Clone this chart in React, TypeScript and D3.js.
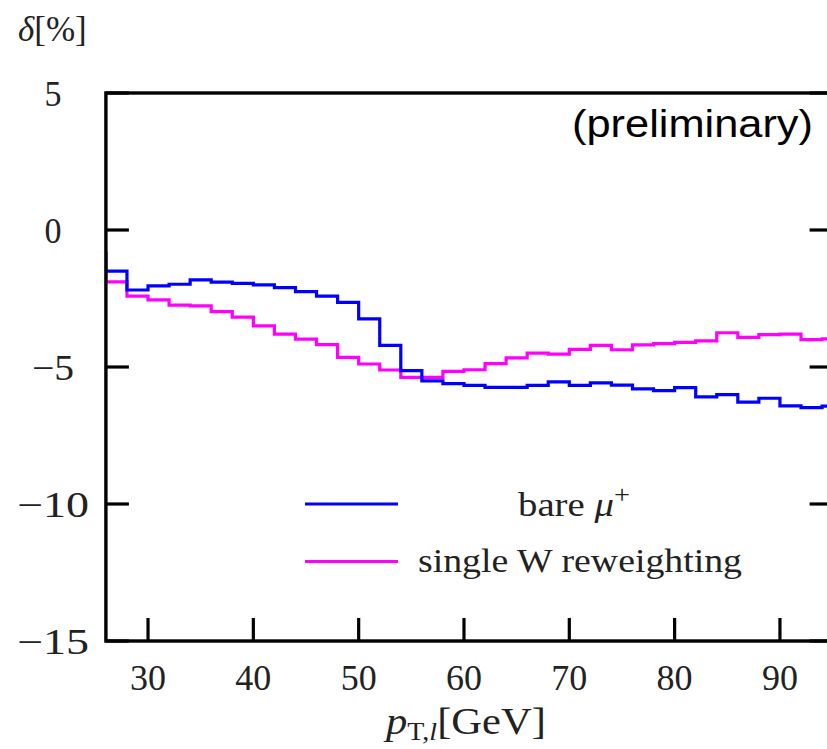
import React from "react";
import * as d3 from "d3";

// lower edges of the 2 GeV bins
const binLow = [24, 26, 28, 30, 32, 34, 36, 38, 40, 42, 44, 46, 48, 50, 52, 54, 56, 58, 60, 62, 64, 66, 68, 70, 72, 74, 76, 78, 80, 82, 84, 86, 88, 90, 92, 94];
const bareMu = [-0.84, -1.5, -2.19, -2.04, -1.98, -1.82, -1.9, -1.95, -2.0, -2.1, -2.25, -2.41, -2.64, -3.24, -4.21, -5.13, -5.51, -5.61, -5.67, -5.74, -5.74, -5.67, -5.54, -5.67, -5.58, -5.66, -5.8, -5.86, -5.75, -6.09, -6.01, -6.28, -6.14, -6.42, -6.48, -6.43];
const singleW = [-1.55, -1.89, -2.41, -2.55, -2.74, -2.77, -2.98, -3.18, -3.5, -3.8, -3.98, -4.18, -4.65, -4.89, -5.11, -5.38, -5.38, -5.16, -5.1, -4.88, -4.67, -4.49, -4.53, -4.36, -4.21, -4.37, -4.19, -4.15, -4.1, -4.05, -3.75, -3.92, -3.82, -3.8, -4.0, -3.97];
const binWidth = 2;
const xTicks = [30, 40, 50, 60, 70, 80, 90];
const yTicks = [5, 0, -5, -10, -15];
const xDomain = [26, 95];
const yDomain = [-15, 5];

const W = 827;
const H = 749;
const left = 105.9;
const right = 832.6;
const top = 93;
const bottom = 641;

export default function App() {
  const x = d3.scaleLinear().domain(xDomain).range([left, right]);
  const y = d3.scaleLinear().domain(yDomain).range([bottom, top]);
  const stepPath = (vals: number[]) => {
    const pts: [number, number][] = binLow.map((b, i) => [b, vals[i]]);
    pts.push([binLow[binLow.length - 1] + binWidth, vals[vals.length - 1]]);
    return d3
      .line<[number, number]>()
      .x((d) => x(d[0]))
      .y((d) => y(d[1]))
      .curve(d3.curveStepAfter)(pts) as string;
  };
  const serif = "'Liberation Serif', 'Times New Roman', serif";
  const tickLen = 23;
  const yLabelWidth = (t: number) => (t <= -10 ? 72 : t < 0 ? 42 : 17);
  return (
    <svg width={W} height={H} style={{ position: "absolute", left: 0, top: 0, background: "#fff" }}>
      <defs>
        <clipPath id="plotclip">
          <rect x={left} y={top} width={right - left} height={bottom - top} />
        </clipPath>
      </defs>
      <rect x={0} y={0} width={W} height={H} fill="#fff" />
      <g clipPath="url(#plotclip)">
        <path d={stepPath(singleW)} fill="none" stroke="#ff00ff" strokeWidth={3.2} />
        <path d={stepPath(bareMu)} fill="none" stroke="#0000ff" strokeWidth={3.2} />
      </g>
      {/* frame */}
      <rect x={left} y={top} width={right - left} height={bottom - top} fill="none" stroke="#000" strokeWidth={3.4} />
      {/* x ticks */}
      {xTicks.map((t) => (
        <g key={"xt" + t}>
          <line x1={x(t)} x2={x(t)} y1={bottom} y2={bottom - tickLen} stroke="#000" strokeWidth={3.2} />
          <text x={x(t)} y={690} textAnchor="middle" fontFamily={serif} fontSize={36} fill="#222">
            {t}
          </text>
        </g>
      ))}
      {/* y ticks */}
      {yTicks.map((t) => (
        <g key={"yt" + t}>
          <line x1={left} x2={left + tickLen} y1={y(t)} y2={y(t)} stroke="#000" strokeWidth={3.2} />
          <line x1={right} x2={right - tickLen} y1={y(t)} y2={y(t)} stroke="#000" strokeWidth={3.2} />
          <text
            x={53 - yLabelWidth(t) / 2}
            y={y(t)}
            dy="0.35em"
            fontFamily={serif}
            fontSize={36}
            textLength={yLabelWidth(t)}
            lengthAdjust="spacingAndGlyphs"
            fill="#222"
          >
            {t < 0 ? "\u2212" + Math.abs(t) : String(t)}
          </text>
        </g>
      ))}
      {/* axis titles */}
      <text x={18} y={41} fontFamily={serif} fontSize={35} fill="#222">
        <tspan fontStyle="italic">δ</tspan>
        <tspan>[%]</tspan>
      </text>
      <text x={386} y={734} fontFamily={serif} fontSize={38} fill="#222" textLength={160} lengthAdjust="spacingAndGlyphs">
        <tspan fontStyle="italic">p</tspan>
        <tspan fontSize={25} dy={6}>T,</tspan>
        <tspan fontSize={25} fontStyle="italic">l</tspan>
        <tspan dy={-6}>[GeV]</tspan>
      </text>
      {/* annotation */}
      <text x={572} y={137} fontFamily="'Liberation Sans', Arial, sans-serif" fontSize={38} textLength={241} lengthAdjust="spacingAndGlyphs" fill="#000">
        (preliminary)
      </text>
      {/* legend */}
      <line x1={305} x2={398} y1={504} y2={504} stroke="#0000ff" strokeWidth={3.2} />
      <text x={518} y={516} fontFamily={serif} fontSize={34} fill="#222" textLength={112} lengthAdjust="spacingAndGlyphs">
        <tspan>bare </tspan>
        <tspan fontStyle="italic">μ</tspan>
        <tspan fontSize={25} dy={-13}>+</tspan>
      </text>
      <line x1={305} x2={398} y1={561.5} y2={561.5} stroke="#ff00ff" strokeWidth={3.2} />
      <text x={418} y={572} fontFamily={serif} fontSize={34} textLength={324} lengthAdjust="spacingAndGlyphs" fill="#222">
        single W reweighting
      </text>
    </svg>
  );
}
